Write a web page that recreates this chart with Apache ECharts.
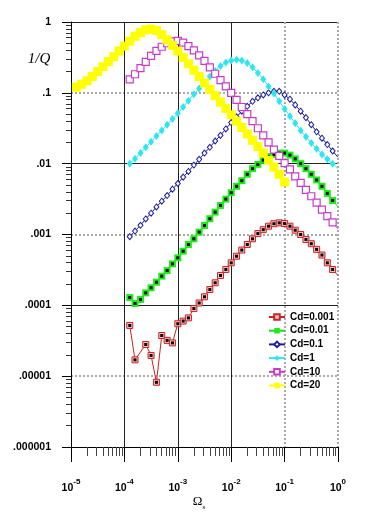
<!DOCTYPE html>
<html><head><meta charset="utf-8">
<script src="https://cdn.jsdelivr.net/npm/echarts@6/dist/echarts.min.js"></script>
<style>html,body{margin:0;padding:0;background:#fff}#c{width:365px;height:524px}</style>
</head><body><div id="c"></div>
<script>
// Omega_s sample positions (10 per decade)
const omega = [1.26e-4,1.58e-4,2.00e-4,2.51e-4,3.16e-4,3.98e-4,5.01e-4,6.31e-4,7.94e-4,1.00e-3,
  1.26e-3,1.58e-3,2.00e-3,2.51e-3,3.16e-3,3.98e-3,5.01e-3,6.31e-3,7.94e-3,1.00e-2,
  1.26e-2,1.58e-2,2.00e-2,2.51e-2,3.16e-2,3.98e-2,5.01e-2,6.31e-2,7.94e-2,0.100,
  0.126,0.158,0.200,0.251,0.316,0.398,0.501,0.631,0.794,1.00];
const omega20 = [1.26e-5,1.58e-5,2.00e-5,2.51e-5,3.16e-5,3.98e-5,5.01e-5,6.31e-5,7.94e-5,1.00e-4,
  1.26e-4,1.58e-4,2.00e-4,2.51e-4,3.16e-4,3.98e-4,5.01e-4,6.31e-4,7.94e-4,1.00e-3,
  1.26e-3,1.58e-3,2.00e-3,2.51e-3,3.16e-3,3.98e-3,5.01e-3,6.31e-3,7.94e-3,1.00e-2,
  1.26e-2,1.58e-2,2.00e-2,2.51e-2,3.16e-2,3.98e-2,5.01e-2,6.31e-2,7.94e-2,0.100];

// 1/Q values
const qCd0001 = [5.2e-5,1.7e-5,null,2.8e-5,1.96e-5,8.2e-6,3.75e-5,3.2e-5,2.95e-5,5.5e-5,
  6.0e-5,6.65e-5,9.0e-5,1.08e-4,1.32e-4,1.67e-4,2.08e-4,2.64e-4,3.21e-4,3.98e-4,
  4.94e-4,6.03e-4,7.23e-4,8.69e-4,1.03e-3,1.17e-3,1.31e-3,1.42e-3,1.46e-3,1.43e-3,
  1.31e-3,1.15e-3,1.00e-3,8.51e-4,7.41e-4,6.17e-4,5.13e-4,3.98e-4,3.21e-4,2.63e-4];
const qCd001 = [1.29e-4,1.06e-4,1.21e-4,1.50e-4,1.77e-4,2.12e-4,2.58e-4,3.10e-4,3.85e-4,4.69e-4,
  5.81e-4,7.23e-4,8.69e-4,1.08e-3,1.34e-3,1.67e-3,2.07e-3,2.57e-3,3.16e-3,3.89e-3,
  4.79e-3,5.75e-3,7.08e-3,8.51e-3,9.77e-3,1.12e-2,1.26e-2,1.35e-2,1.41e-2,1.41e-2,
  1.32e-2,1.17e-2,1.00e-2,8.51e-3,7.08e-3,5.89e-3,4.79e-3,3.80e-3,3.02e-3,2.45e-3];
const qCd01 = [9.33e-4,1.12e-3,1.35e-3,1.66e-3,2.00e-3,2.45e-3,2.95e-3,3.55e-3,4.37e-3,5.25e-3,
  6.46e-3,7.76e-3,9.55e-3,1.15e-2,1.41e-2,1.70e-2,2.09e-2,2.51e-2,3.09e-2,3.80e-2,
  4.57e-2,5.50e-2,6.46e-2,7.59e-2,8.51e-2,9.33e-2,0.100,0.105,0.105,0.0933,
  0.0813,0.0676,0.0550,0.0447,0.0355,0.0282,0.0229,0.0186,0.0151,0.0123];
const qCd1 = [0.0100,0.0117,0.0141,0.0170,0.0204,0.0245,0.0295,0.0355,0.0427,0.0513,
  0.0631,0.0776,0.0955,0.115,0.141,0.170,0.204,0.240,0.269,0.285,
  0.292,0.285,0.263,0.229,0.191,0.155,0.123,0.0977,0.0759,0.0589,
  0.0468,0.0372,0.0295,0.0240,0.0195,0.0162,0.0135,0.0115,0.0100,0.00851];
const qCd10 = [0.155,0.183,0.223,0.274,0.333,0.392,0.447,0.501,0.531,0.542,
  0.513,0.457,0.398,0.339,0.282,0.229,0.186,0.151,0.123,0.100,
  0.0794,0.0631,0.0501,0.0398,0.0316,0.0251,0.0200,0.0158,0.0129,0.0102,
  0.00832,0.00661,0.00537,0.00427,0.00347,0.00282,0.00224,0.00182,0.00148,0.00120];
const qCd20 = [0.120,0.132,0.148,0.170,0.200,0.234,0.275,0.324,0.389,0.457,
  0.537,0.631,0.708,0.776,0.794,0.759,0.661,0.562,0.468,0.389,
  0.316,0.257,0.209,0.170,0.138,0.112,0.0912,0.0741,0.0603,0.0490,
  0.0398,0.0324,0.0263,0.0214,0.0174,0.0141,0.0112,0.00891,0.00708,0.00550];

const seriesNames = ['Cd=0.001','Cd=0.01','Cd=0.1','Cd=1','Cd=10','Cd=20'];
const yTickLabels = ['.000001','.00001','.0001','.001','.01','.1','1'];
const xTickExps = ['-5','-4','-3','-2','-1','0'];

function pairs(xs, ys) {
  const out = [];
  for (let i = 0; i < xs.length; i++) {
    if (ys[i] == null) continue;
    const item = { value: [xs[i], ys[i]] };
    if (xs[i] >= 1) item.symbol = 'none';
    out.push(item);
  }
  return out;
}
function points(xs, ys) {
  const out = [];
  for (let i = 0; i < xs.length; i++) {
    if (ys[i] == null || xs[i] >= 1) continue;
    out.push([xs[i], ys[i]]);
  }
  return out;
}

const minorX = [], minorY = [];
for (let e = -5; e < 0; e++) for (let k = 2; k < 10; k++) minorX.push(k * Math.pow(10, e));
for (let e = -6; e < 0; e++) for (let k = 2; k < 10; k++) minorY.push(k * Math.pow(10, e));

const T = 'rgba(0,0,0,0)';
const FONT = '"Liberation Sans", Arial, sans-serif';
const baseX = { type: 'log', logBase: 10, min: 1e-5, max: 1, splitNumber: 5, position: 'bottom' };
const baseY = { type: 'log', logBase: 10, min: 1e-6, max: 1, splitNumber: 6, position: 'left' };
const hidden = { axisLine: { show: false }, axisLabel: { show: false } };

const chart = echarts.init(document.getElementById('c'), null, { renderer: 'canvas' });
chart.setOption({
  animation: false,
  backgroundColor: '#fff',
  grid: { left: 71, top: 22, width: 267, height: 425 },
  xAxis: [
    Object.assign({}, baseX, {
      axisLine: { show: true, onZero: false, lineStyle: { color: '#000', width: 1 } },
      axisTick: { show: true, length: 15, lineStyle: { color: '#000' } },
      axisLabel: {
        margin: 31, color: '#000',
        formatter: v => '{b|10}{s|' + xTickExps[Math.round(Math.log10(v)) + 5] + '}',
        rich: {
          b: { fontSize: 10.5, fontWeight: 'bold', fontFamily: FONT, lineHeight: 16, verticalAlign: 'bottom', color: '#000' },
          s: { fontSize: 8, fontWeight: 'bold', fontFamily: FONT, lineHeight: 9, verticalAlign: 'top', color: '#000' }
        }
      },
      splitLine: { show: true, lineStyle: { color: ['#222', '#222', '#222', '#222', T, T], width: 1 } }
    }),
    Object.assign({}, baseX, hidden, {
      axisTick: { show: true, length: 9, customValues: minorX, lineStyle: { color: '#444' } },
      splitLine: { show: false }
    }),
    Object.assign({}, baseX, hidden, {
      axisTick: { show: false },
      splitLine: { show: true, lineStyle: { color: [T, T, T, T, '#aaa', '#aaa'], width: 2, type: 'dotted' } }
    })
  ],
  yAxis: [
    Object.assign({}, baseY, {
      axisLine: { show: true, onZero: false, lineStyle: { color: '#000', width: 1 } },
      axisTick: { show: true, length: 9, lineStyle: { color: '#000' } },
      axisLabel: {
        margin: 20, color: '#000', fontSize: 10.5, fontWeight: 'bold', fontFamily: FONT,
        formatter: v => yTickLabels[Math.round(Math.log10(v)) + 6]
      },
      splitLine: { show: true, lineStyle: { color: ['#222', T, '#222', T, '#222', T, '#222'], width: 1 } }
    }),
    Object.assign({}, baseY, hidden, {
      axisTick: { show: true, length: 5, customValues: minorY, lineStyle: { color: '#333' } },
      splitLine: { show: false }
    }),
    Object.assign({}, baseY, hidden, {
      axisTick: { show: false },
      splitLine: { show: true, lineStyle: { color: [T, '#aaa', T, '#aaa', T, '#aaa', T], width: 2, type: 'dotted' } }
    })
  ],
  legend: {
    data: seriesNames, orient: 'vertical', left: 268, top: 312, padding: 0,
    itemWidth: 16, itemHeight: 7, itemGap: 3.7,
    textStyle: { fontSize: 10, fontWeight: 'bold', fontFamily: FONT, color: '#000', lineHeight: 10 }
  },
  series: [
    { name: seriesNames[0], type: 'line', z: 2, data: pairs(omega, qCd0001), symbol: 'rect', symbolSize: 6,
      lineStyle: { color: '#cc2020', width: 1 }, itemStyle: { color: '#f8c0c0', borderColor: '#c82424', borderWidth: 1 } },
    { name: 'dots1', type: 'scatter', z: 3, xAxisIndex: 0, yAxisIndex: 0, data: points(omega, qCd0001),
      symbol: 'rect', symbolSize: 3, itemStyle: { color: '#000', opacity: 1 }, silent: true },
    { name: seriesNames[1], type: 'line', z: 4, data: pairs(omega, qCd001), symbol: 'rect', symbolSize: 7,
      lineStyle: { color: '#1ed81e', width: 1 }, itemStyle: { color: '#1fec1f' } },
    { name: 'dots2', type: 'scatter', z: 5, xAxisIndex: 0, yAxisIndex: 0, data: points(omega, qCd001),
      symbol: 'rect', symbolSize: 3, itemStyle: { color: '#000', opacity: 1 }, silent: true },
    { name: seriesNames[2], type: 'line', z: 6, data: pairs(omega, qCd01), symbol: 'diamond', symbolSize: [5, 6],
      lineStyle: { color: '#1c1c9c', width: 1 }, itemStyle: { color: '#fff', borderColor: '#1c1c9c', borderWidth: 1 } },
    { name: seriesNames[3], type: 'line', z: 7, data: pairs(omega, qCd1), symbol: 'diamond', symbolSize: [6, 8],
      lineStyle: { color: '#2ee6f2', width: 1 }, itemStyle: { color: '#2ee6f2' } },
    { name: seriesNames[4], type: 'line', z: 8, data: pairs(omega, qCd10), symbol: 'rect', symbolSize: 7,
      lineStyle: { color: '#c83cc8', width: 1 }, itemStyle: { color: '#fff', borderColor: '#c83cc8', borderWidth: 1.2 } },
    { name: seriesNames[5], type: 'line', z: 9, data: pairs(omega20, qCd20), symbol: 'rect', symbolSize: 9,
      lineStyle: { color: '#ffff00', width: 1 }, itemStyle: { color: '#ffff00' } }
  ],
  graphic: [
    { type: 'text', style: { x: 39, y: 59, text: '1/Q', align: 'center', verticalAlign: 'middle',
      font: 'italic 15px "Liberation Serif", "Times New Roman", serif', fill: '#000' } },
    { type: 'text', style: { x: 199, y: 503, text: '{o|Ω}{s|s}', align: 'center', verticalAlign: 'middle',
      rich: { o: { fontSize: 13, fontFamily: '"Liberation Serif", serif', lineHeight: 16, verticalAlign: 'top', fill: '#000' },
              s: { fontSize: 7, fontFamily: '"Liberation Serif", serif', lineHeight: 7, verticalAlign: 'bottom', fill: '#000' } } } }
  ]
});
</script>
</body></html>
